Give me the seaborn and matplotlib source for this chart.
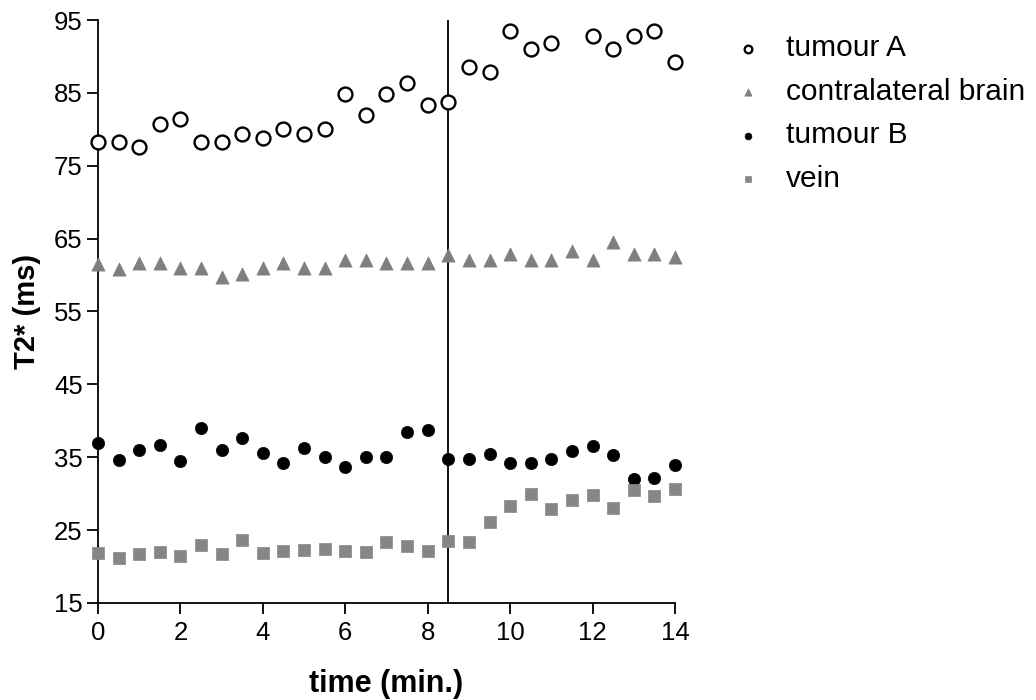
import numpy as np
import pandas as pd
import matplotlib
matplotlib.use("Agg")
import matplotlib.pyplot as plt
import seaborn as sns

# time points (min.)
time_full = [0, 0.5, 1, 1.5, 2, 2.5, 3, 3.5, 4, 4.5, 5, 5.5, 6, 6.5, 7,
             7.5, 8, 8.5, 9, 9.5, 10, 10.5, 11, 11.5, 12, 12.5, 13, 13.5, 14]
time_a = [0, 0.5, 1, 1.5, 2, 2.5, 3, 3.5, 4, 4.5, 5, 5.5, 6, 6.5, 7,
          7.5, 8, 8.5, 9, 9.5, 10, 10.5, 11, 12, 12.5, 13, 13.5, 14]

tumour_a = [78.2, 78.2, 77.6, 80.7, 81.4, 78.2, 78.2, 79.4, 78.8, 80.1, 79.4, 80.1,
            84.8, 82.0, 84.9, 86.4, 83.4, 83.7, 88.6, 87.9, 93.5, 91.0, 91.9,
            92.8, 91.0, 92.8, 93.5, 89.3]
contralateral = [61.5, 60.9, 61.7, 61.7, 61.0, 61.0, 59.8, 60.2, 61.0, 61.7, 61.0, 61.0,
                 62.1, 62.1, 61.7, 61.7, 61.7, 62.7, 62.1, 62.1, 62.9, 62.1, 62.1, 63.3,
                 62.1, 64.5, 62.9, 62.9, 62.5]
tumour_b = [36.9, 34.6, 36.0, 36.7, 34.5, 39.0, 36.0, 37.6, 35.6, 34.2, 36.2, 35.1,
            33.6, 35.1, 35.0, 38.4, 38.7, 34.7, 34.8, 35.4, 34.2, 34.2, 34.7, 35.9,
            36.5, 35.3, 32.0, 32.1, 33.9]
vein = [21.9, 21.2, 21.7, 22.0, 21.5, 22.9, 21.7, 23.6, 21.8, 22.2, 22.3, 22.4,
        22.2, 22.0, 23.3, 22.8, 22.2, 23.5, 23.3, 26.1, 28.3, 29.9, 27.9, 29.1,
        29.8, 28.1, 30.5, 29.7, 30.7]

injection_time = 8.5
y_ticks = [15, 25, 35, 45, 55, 65, 75, 85, 95]
x_ticks = [0, 2, 4, 6, 8, 10, 12, 14]

df = pd.concat([
    pd.DataFrame({"time": time_a, "T2": tumour_a, "series": "tumour A"}),
    pd.DataFrame({"time": time_full, "T2": contralateral, "series": "contralateral brain"}),
    pd.DataFrame({"time": time_full, "T2": tumour_b, "series": "tumour B"}),
    pd.DataFrame({"time": time_full, "T2": vein, "series": "vein"}),
])

styles = {
    "tumour A": dict(marker="o", facecolor="white", edgecolor="black", s=100, linewidth=1.7),
    "contralateral brain": dict(marker="^", facecolor="#7f7f7f", edgecolor="#7f7f7f", s=90, linewidth=0.5),
    "tumour B": dict(marker="o", facecolor="black", edgecolor="black", s=78, linewidth=0.5),
    "vein": dict(marker="s", facecolor="#868686", edgecolor="#868686", s=80, linewidth=0.5),
}

sns.set_style("ticks")
plt.rcParams['font.family'] = ['Liberation Sans', 'DejaVu Sans']
plt.rcParams['text.color'] = 'black'
plt.rcParams['axes.labelcolor'] = 'black'

fig = plt.figure(figsize=(10.36, 7.0), dpi=100)
ax = fig.add_axes([0.0946, 0.1386, 0.5569, 0.8328])

for name, st in styles.items():
    sub = df[df["series"] == name]
    sns.scatterplot(data=sub, x="time", y="T2", ax=ax, label=name, clip_on=False,
                    zorder=3, **st)

ax.axvline(injection_time, color="black", lw=1.3, zorder=2)

ax.set_xlim(0, 14)
ax.set_ylim(15, 95)
ax.set_xticks(x_ticks)
ax.set_yticks(y_ticks)
ax.tick_params(direction="out", length=8, width=1.3, labelsize=18.5, colors="black")
ax.tick_params(axis="x", pad=5)
ax.tick_params(axis="y", pad=3)
for sp in ["left", "bottom"]:
    ax.spines[sp].set_linewidth(1.3)
    ax.spines[sp].set_color("black")
sns.despine(ax=ax)

ax.set_xlabel("time (min.)", fontsize=22, fontweight="bold", labelpad=17)
ax.set_ylabel("T2* (ms)", fontsize=21, fontweight="bold", labelpad=9)

leg = ax.legend(loc="upper left", bbox_to_anchor=(1.065, 1.006), frameon=False, fontsize=21.5,
                markerscale=0.55, handlelength=1.2, handletextpad=0.65, labelspacing=0.52,
                borderaxespad=0.2)
for t in leg.get_texts():
    t.set_color("black")

fig.savefig("out.png", dpi=100)
